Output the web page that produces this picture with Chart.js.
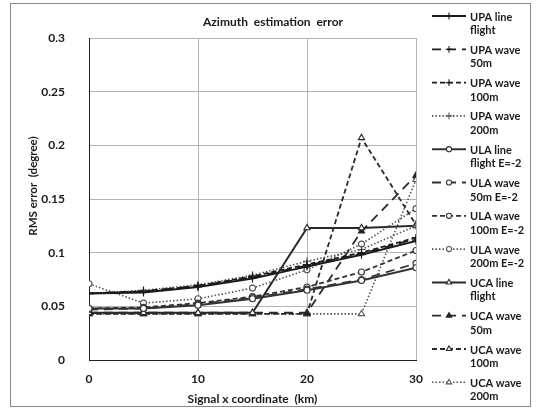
<!DOCTYPE html>
<html><head><meta charset="utf-8">
<script src="https://cdn.jsdelivr.net/npm/chart.js@4.4.1/dist/chart.umd.min.js"></script>
<style>html,body{margin:0;padding:0;background:#fff}#wrap{width:536px;height:410px;position:relative}</style>
</head><body><div id="wrap"><canvas id="c" width="536" height="410"></canvas></div>
<script>
const xKm = [0, 5, 10, 15, 20, 25, 30];
const upaLineFlight = [0.062, 0.063, 0.068, 0.076, 0.087, 0.098, 0.111];
const upaWave50 = [0.062, 0.064, 0.069, 0.077, 0.088, 0.099, 0.113];
const upaWave100 = [0.062, 0.064, 0.069, 0.078, 0.089, 0.100, 0.114];
const upaWave200 = [0.062, 0.065, 0.070, 0.079, 0.092, 0.103, 0.125];
const ulaLineFlight = [0.048, 0.048, 0.051, 0.057, 0.065, 0.074, 0.086];
const ulaWave50 = [0.047, 0.048, 0.052, 0.058, 0.066, 0.075, 0.090];
const ulaWave100 = [0.048, 0.049, 0.053, 0.059, 0.068, 0.082, 0.102];
const ulaWave200 = [0.071, 0.053, 0.057, 0.067, 0.084, 0.108, 0.141];
const ucaLineFlight = [0.044, 0.044, 0.044, 0.044, 0.123, 0.123, 0.125];
const ucaWave50 = [0.044, 0.044, 0.044, 0.044, 0.044, 0.120, 0.172];
const ucaWave100 = [0.043, 0.043, 0.043, 0.043, 0.043, 0.207, 0.126];
const ucaWave200 = [0.043, 0.043, 0.043, 0.043, 0.043, 0.043, 0.168];
const seriesLabels = [
  ['UPA line', 'flight'], ['UPA wave', '50m'], ['UPA wave', '100m'], ['UPA wave', '200m'],
  ['ULA line', 'flight E=-2'], ['ULA wave', '50m E=-2'], ['ULA wave', '100m E=-2'], ['ULA wave', '200m E=-2'],
  ['UCA line', 'flight'], ['UCA wave', '50m'], ['UCA wave', '100m'], ['UCA wave', '200m']
];
const seriesValues = [upaLineFlight, upaWave50, upaWave100, upaWave200,
  ulaLineFlight, ulaWave50, ulaWave100, ulaWave200,
  ucaLineFlight, ucaWave50, ucaWave100, ucaWave200];
const yTickStep = 0.05;
const xTickStep = 10;
const titleText = 'Azimuth  estimation  error';
const yTitleText = 'RMS error  (degree)';
const xTitleText = 'Signal x coordinate  (km)';

const FONT = 'Lato, "Liberation Sans", sans-serif';
const dashes = [[], [9, 6], [5, 3], [1.5, 2]];
const families = ['upa', 'ula', 'uca'];
const colors = { upa: '#1c1c1c', ula: '#333333', uca: '#2a2a2a' };

const datasets = seriesValues.map((vals, i) => {
  const fam = families[Math.floor(i / 4)];
  const kind = i % 4;
  let pointStyle, radius, bg;
  if (fam === 'upa') { pointStyle = 'cross'; radius = 4; bg = '#222'; }
  else if (fam === 'ula') { pointStyle = 'circle'; radius = 3; bg = '#fff'; }
  else { pointStyle = 'triangle'; radius = 3.6; bg = (kind === 1) ? '#222' : '#fff'; }
  const col = (kind === 3) ? '#555' : colors[fam];
  return {
    label: seriesLabels[i].join(' '),
    data: vals.map((v, j) => ({ x: xKm[j], y: v })),
    borderColor: col,
    backgroundColor: bg,
    borderWidth: kind === 0 ? 2 : (kind === 3 ? 1.6 : 1.8),
    borderDash: dashes[kind],
    pointStyle: pointStyle,
    pointRadius: radius,
    pointBorderWidth: 1.1,
    pointBorderColor: col,
    pointBackgroundColor: bg,
    tension: 0,
    fill: false,
    showLine: true
  };
});

const decorPlugin = {
  id: 'decor',
  afterDraw(chart) {
    const ctx = chart.ctx;
    ctx.save();
    ctx.strokeStyle = '#8a8a8a';
    ctx.lineWidth = 1;
    ctx.setLineDash([]);
    ctx.strokeRect(10.5, 3.5, 520, 403);
    ctx.fillStyle = '#1a1a1a';
    ctx.font = 'bold 12px ' + FONT;
    ctx.textAlign = 'center';
    ctx.textBaseline = 'middle';
    ctx.fillText(titleText, 273, 22);
    ctx.save();
    ctx.translate(33, 186);
    ctx.rotate(-Math.PI / 2);
    ctx.font = 'bold 11.5px ' + FONT;
    ctx.fillText(yTitleText, 0, 0);
    ctx.restore();
    chart.data.datasets.forEach((ds, i) => {
      const y = 16 + i * 33.3;
      ctx.strokeStyle = ds.borderColor;
      ctx.lineWidth = ds.borderWidth;
      ctx.setLineDash(ds.borderDash);
      ctx.beginPath();
      ctx.moveTo(432, y);
      ctx.lineTo(466, y);
      ctx.stroke();
      ctx.setLineDash([]);
      ctx.fillStyle = ds.pointBackgroundColor;
      ctx.strokeStyle = ds.pointBorderColor;
      ctx.lineWidth = ds.pointBorderWidth;
      Chart.helpers.drawPoint(ctx, { pointStyle: ds.pointStyle, radius: ds.pointRadius * 0.85, rotation: 0, borderWidth: ds.pointBorderWidth }, 449, y);
      ctx.fillStyle = '#1a1a1a';
      ctx.font = 'bold 11px ' + FONT;
      ctx.textAlign = 'left';
      ctx.textBaseline = 'middle';
      ctx.fillText(seriesLabels[i][0], 470, y + 1);
      ctx.fillText(seriesLabels[i][1], 470, y + 14.5);
    });
    ctx.restore();
  }
};

new Chart(document.getElementById('c'), {
  type: 'scatter',
  data: { datasets },
  options: {
    responsive: false,
    animation: false,
    layout: { padding: { left: 20, right: 120, top: 38, bottom: 0 } },
    plugins: { legend: { display: false }, title: { display: false }, tooltip: { enabled: false } },
    scales: {
      x: {
        type: 'linear', min: 0, max: 30,
        ticks: { stepSize: xTickStep, padding: 12, color: '#1a1a1a', font: { family: FONT, size: 12, weight: 'bold' }, maxRotation: 0 },
        grid: { color: '#b4b4b4', lineWidth: 1, drawTicks: false },
        border: { display: true, color: '#222', width: 1 },
        title: { display: true, text: xTitleText, color: '#1a1a1a', font: { family: FONT, size: 12, weight: 'bold' }, padding: { top: 0, bottom: 4 } },
        afterFit(scale) { scale.height = 50; }
      },
      y: {
        type: 'linear', min: 0, max: 0.3,
        ticks: { stepSize: yTickStep, padding: 24, color: '#1a1a1a', font: { family: FONT, size: 12, weight: 'bold' },
          callback: (v) => String(Number(v.toFixed(2))) },
        grid: { color: '#b4b4b4', lineWidth: 1, drawTicks: false },
        border: { display: true, color: '#222', width: 1 },
        afterFit(scale) { scale.width = 69; }
      }
    }
  },
  plugins: [decorPlugin]
});
</script></body></html>
